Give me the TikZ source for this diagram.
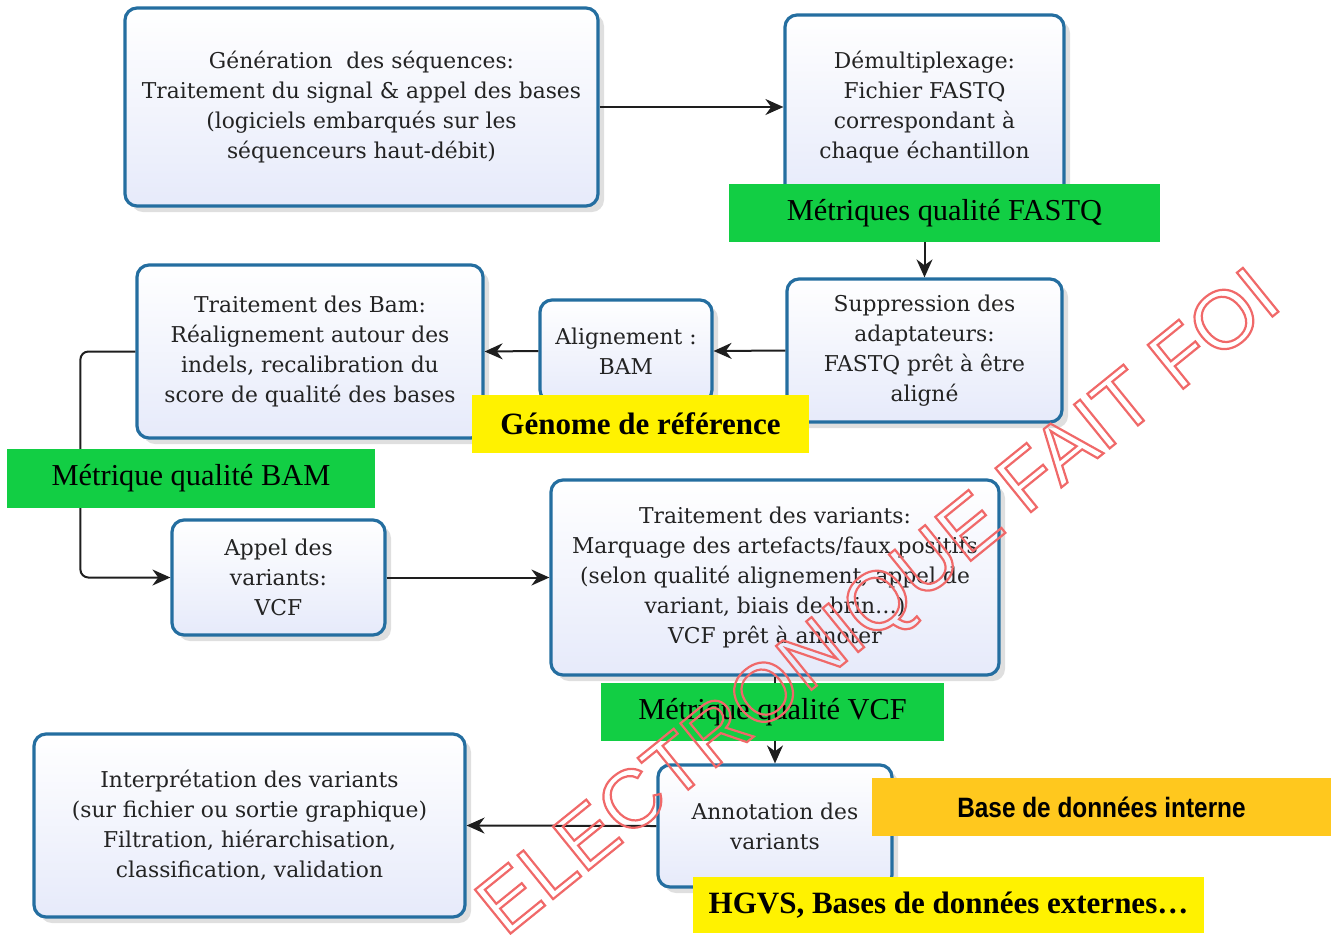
\documentclass[tikz,border=0pt]{standalone}
\usepackage{fontspec}
\setmainfont{DejaVu Serif}
\newfontfamily\labelfont{Liberation Serif}
\newfontfamily\narrowfont[FakeStretch=0.87]{Liberation Sans}
\newfontfamily\markfont{Liberation Sans}
\usepackage{tikz}
\usetikzlibrary{positioning}
\usetikzlibrary{arrows.meta}
\usetikzlibrary{shadows}
\definecolor{stageline}{RGB}{36,110,160}
\definecolor{stagefill}{RGB}{230,234,250}
\definecolor{stagetext}{RGB}{35,35,35}
\definecolor{flowline}{RGB}{30,30,30}
\definecolor{metricgreen}{RGB}{18,206,68}
\definecolor{refyellow}{RGB}{255,242,0}
\definecolor{dbgold}{RGB}{255,200,30}
\definecolor{markred}{RGB}{240,105,105}
\newcommand\hollowtext[1]{\special{pdf:literal direct 1 Tr 1.1 w}#1\special{pdf:literal direct 0 Tr}}

\begin{document}
\begin{tikzpicture} [x = 0.5pt, y = -0.5pt,
    stage/.style = {draw = stageline, line width = 1.6pt, rounded corners = 6pt,
      top color = white, bottom color = stagefill,
      drop shadow = {opacity = 0.25, shadow xshift = 3pt, shadow yshift = -3pt},
      align = center, text = stagetext, inner sep = 0pt,
      font = \fontsize{10.9}{15}\selectfont},
    tag/.style = {inner sep = 0pt, font = \labelfont\fontsize{15.2}{18}\selectfont},
    metric/.style = {tag, fill = metricgreen},
    refdata/.style = {tag, fill = refyellow, font = \labelfont\bfseries\fontsize{15.5}{18}\selectfont},
    flow/.style = {-{Stealth[length = 9pt, width = 8pt]}, line width = 1pt, draw = flowline}]
    \useasboundingbox (0,0) rectangle (1335,934);
    \node [stage, minimum width = 236.5pt, minimum height = 99pt] (gen) at (361.5,107)
      {Génération~ des séquences:\\Traitement du signal \& appel des bases\\(logiciels embarqués sur les\\séquenceurs haut-débit)};
    \node [stage, minimum width = 139.5pt, minimum height = 92pt] (demux) at (924.5,107)
      {Démultiplexage:\\Fichier FASTQ\\correspondant à\\chaque échantillon};
    \node [stage, minimum width = 137.5pt, minimum height = 71.5pt] (trim) at (924.5,350.5)
      {Suppression des\\adaptateurs:\\FASTQ prêt à être\\aligné};
    \node [stage, minimum width = 86pt, minimum height = 51pt] (align) at (626,351)
      {Alignement :\\BAM};
    \node [stage, minimum width = 173pt, minimum height = 86.5pt] (bam) at (310,351.5)
      {Traitement des Bam:\\Réalignement autour des\\indels, recalibration du\\score de qualité des bases};
    \node [stage, minimum width = 106.5pt, minimum height = 57.5pt] (call) at (278.5,577.5)
      {Appel des\\variants:\\VCF};
    \node [stage, minimum width = 224pt, minimum height = 97.5pt] (filter) at (775,577.5)
      {Traitement des variants:\\Marquage des artefacts/faux positifs\\(selon qualité alignement, appel de\\variant, biais de brin…)\\VCF prêt à annoter};
    \node [stage, minimum width = 117pt, minimum height = 61pt] (annot) at (775,826)
      {Annotation des\\variants};
    \node [stage, minimum width = 215.5pt, minimum height = 91.5pt] (interp) at (249.5,825.5)
      {Interprétation des variants\\(sur fichier ou sortie graphique)\\Filtration, hiérarchisation,\\classification, validation};

    \draw [flow] (gen.east) -- (demux.west);
    \draw [flow] (demux.south) -- (trim.north);
    \draw [flow] (trim.west) -- (align.west -| align.east);
    \draw [flow] (align.west) -- (bam.east);
    \draw [flow, rounded corners = 4pt] (bam.west) -- ++(-55,0) |- (call.west);
    \draw [flow] (call.east) -- (filter.west);
    \draw [flow] (filter.south) -- (annot.north);
    \draw [flow] (annot.west) -- (interp.east);

    \node [metric, minimum width = 215.5pt, minimum height = 29pt] (fastqq) at (944.5,213) {Métriques qualité FASTQ};
    \node [metric, minimum width = 184pt, minimum height = 29.5pt] (bamq) at (191,478.5) {Métrique qualité BAM};
    \node [metric, minimum width = 171.5pt, minimum height = 29pt] (vcfq) at (772.5,712) {Métrique qualité VCF};
    \node [refdata, minimum width = 168.5pt, minimum height = 29pt] (genome) at (640.5,424) {Génome de référence};
    \node [tag, fill = dbgold, font = \narrowfont\bfseries\fontsize{14}{16}\selectfont,
      minimum width = 229.5pt, minimum height = 29pt] (internal) at (1101.5,807) {Base de données interne};
    \node [refdata, minimum width = 255.5pt, minimum height = 28pt] (external) at (948.5,905) {HGVS, Bases de données externes…};

    \begin{scope}
      \clip (0,0) rectangle (1335,934);
      \node [anchor = base west, rotate = 39, inner sep = 0pt, text = markred,
        font = \markfont\fontsize{41}{41}\selectfont] (stamp) at (505,938) {\hollowtext{ELECTRONIQUE FAIT FOI}};
    \end{scope}
  \end{tikzpicture}
\end{document}
